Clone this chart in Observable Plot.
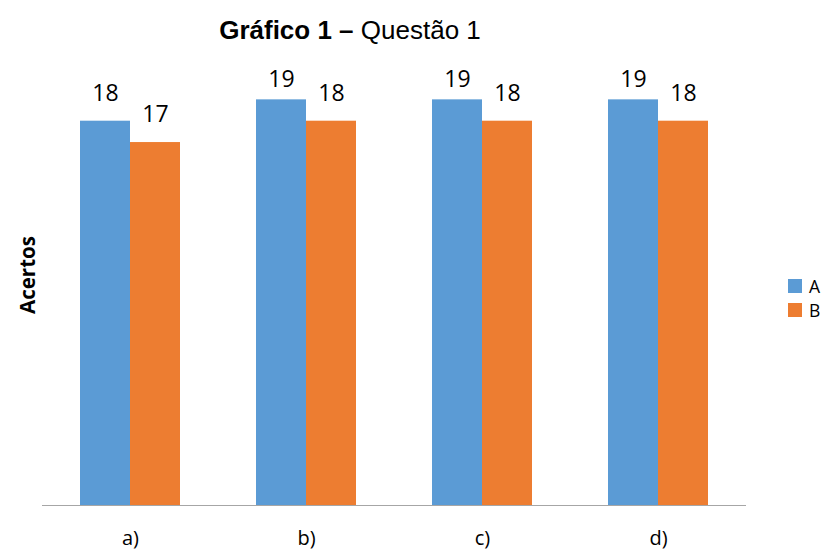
<!DOCTYPE html>
<html>
<head>
<meta charset="utf-8">
<script src="https://cdn.jsdelivr.net/npm/d3@7"></script>
<script src="https://cdn.jsdelivr.net/npm/@observablehq/plot@0.6"></script>
<style>
  body { margin: 0; background: #fff; }
  #wrap { position: relative; width: 826px; height: 550px; overflow: hidden; }
  #title { position: absolute; left: 0; width: 700px; top: 15px; line-height: 30px; text-align: center; font-family: "Liberation Sans", Arial, sans-serif; font-size: 26px; color: #000; }
  #ylab { position: absolute; left: 27px; top: 275px; line-height: 22px; transform: translate(-50%, -50%) rotate(-90deg); font-family: "Open Sans", sans-serif; font-weight: bold; font-size: 20.5px; white-space: nowrap; }
  .leg { position: absolute; left: 788px; height: 18px; line-height: 18px; font-family: "Open Sans", sans-serif; font-size: 17.5px; display: flex; align-items: center; }
  .leg span.sw { display: inline-block; width: 14px; height: 14px; margin-right: 7px; }
  #chart { position: absolute; left: 0; top: 0; }
</style>
</head>
<body>
<div id="wrap">
  <div id="chart"></div>
  <div id="title"><b>Gráfico 1 –</b> Questão 1</div>
  <div id="ylab">Acertos</div>
  <div class="leg" style="top:277px"><span class="sw" style="background:#5b9bd5"></span>A</div>
  <div class="leg" style="top:301px"><span class="sw" style="background:#ed7d31"></span>B</div>
</div>
<script>
const categories = ["a)", "b)", "c)", "d)"];
const series = ["A", "B"];
const valuesA = [18, 19, 19, 19];
const valuesB = [17, 18, 18, 18];
const colors = ["#5b9bd5", "#ed7d31"];

const data = [];
categories.forEach((c, i) => {
  data.push({cat: c, s: "A", v: valuesA[i]});
  data.push({cat: c, s: "B", v: valuesB[i]});
});
const maxV = d3.max(data, d => d.v);

const chart = Plot.plot({
  width: 826,
  height: 550,
  marginLeft: 41,
  marginRight: 80,
  marginTop: 78,
  marginBottom: 45,
  style: {fontFamily: "'Open Sans', sans-serif", fontSize: "20px", color: "#000", background: "#fff"},
  fx: {domain: categories, paddingInner: 0, paddingOuter: 0, label: null, axis: "bottom", tickSize: 0, tickPadding: 25},
  x: {domain: series, paddingInner: 0, paddingOuter: 0.76, axis: null},
  y: {domain: [0, 20], axis: null},
  color: {domain: series, range: colors},
  marks: [
    Plot.barY(data, {fx: "cat", x: "s", y: "v", fill: "s"}),
    Plot.ruleY([0], {stroke: "#a6a6a6", strokeWidth: 1.2}),
    Plot.text(data.filter(d => d.v < maxV), {fx: "cat", x: "s", y: "v", text: d => String(d.v), dy: -28, fontSize: 23, fill: "#000"}),
    Plot.text(data.filter(d => d.v === maxV), {fx: "cat", x: "s", y: "v", text: d => String(d.v), dy: -20, fontSize: 23, fill: "#000"})
  ]
});
document.getElementById("chart").appendChild(chart);
</script>
</body>
</html>
